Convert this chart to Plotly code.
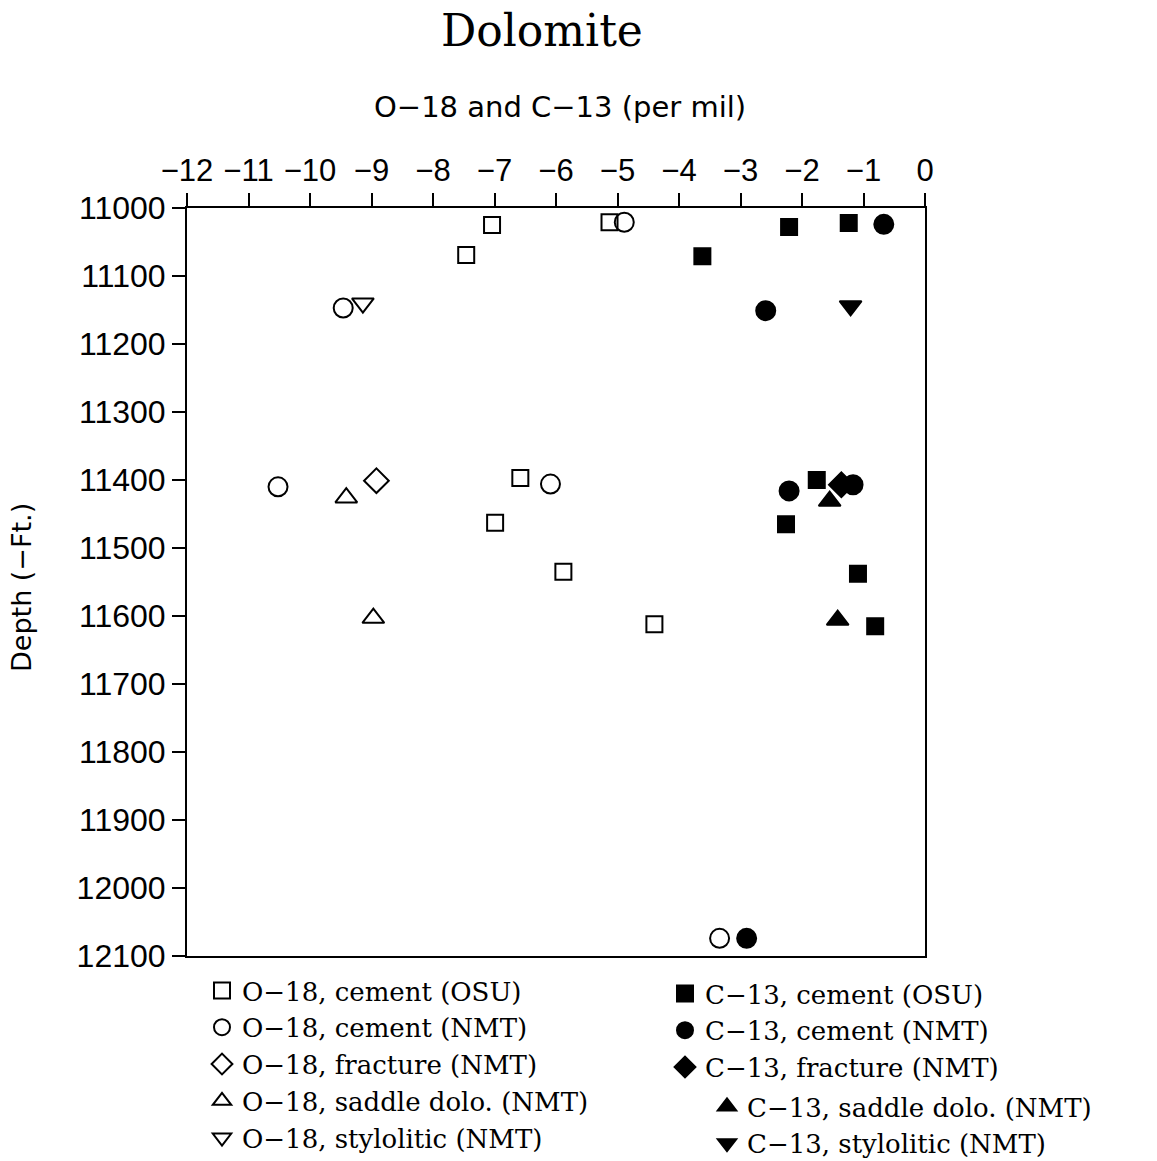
import plotly.graph_objects as go

W, H = 1157, 1161

# ---- sample data: isotope value (per mil) and depth (ft) ----
# O-18 series (open symbols)
o18_cement_osu_val = [-7.04, -7.46, -5.13, -6.58, -6.99, -5.88, -4.40]
o18_cement_osu_depth = [11025, 11069, 11021, 11397, 11463, 11535, 11612]

o18_cement_nmt_val = [-4.89, -9.46, -10.52, -6.09, -3.34]
o18_cement_nmt_depth = [11021, 11147, 11410, 11406, 12074]

o18_fracture_nmt_val = [-8.92]
o18_fracture_nmt_depth = [11401]

o18_saddle_nmt_val = [-9.41, -8.97]
o18_saddle_nmt_depth = [11426, 11603]

o18_stylolitic_nmt_val = [-9.14]
o18_stylolitic_nmt_depth = [11140]

# C-13 series (filled symbols)
c13_cement_osu_val = [-2.21, -1.24, -3.62, -1.76, -2.26, -1.09, -0.81]
c13_cement_osu_depth = [11028, 11022, 11071, 11400, 11465, 11538, 11615]

c13_cement_nmt_val = [-0.67, -2.59, -2.21, -1.17, -2.90]
c13_cement_nmt_depth = [11024, 11151, 11416, 11407, 12074]

c13_fracture_nmt_val = [-1.36]
c13_fracture_nmt_depth = [11407]

c13_saddle_nmt_val = [-1.55, -1.42]
c13_saddle_nmt_depth = [11431, 11606]

c13_stylolitic_nmt_val = [-1.21]
c13_stylolitic_nmt_depth = [11144]

# axis ticks
x_ticks = list(range(-12, 1))
y_ticks = list(range(11000, 12101, 100))

MINUS = "\u2212"

series = [
    # name, values, depths, symbol, size, legend
    (f"O{MINUS}18, cement (OSU)", o18_cement_osu_val, o18_cement_osu_depth, "square-open", 16, "legend"),
    (f"O{MINUS}18, cement (NMT)", o18_cement_nmt_val, o18_cement_nmt_depth, "circle-open", 19, "legend"),
    (f"O{MINUS}18, fracture (NMT)", o18_fracture_nmt_val, o18_fracture_nmt_depth, "diamond-open", 19, "legend"),
    (f"O{MINUS}18, saddle dolo. (NMT)", o18_saddle_nmt_val, o18_saddle_nmt_depth, "triangle-up-open", 19, "legend"),
    (f"O{MINUS}18, stylolitic (NMT)", o18_stylolitic_nmt_val, o18_stylolitic_nmt_depth, "triangle-down-open", 19, "legend"),
    (f"C{MINUS}13, cement (OSU)", c13_cement_osu_val, c13_cement_osu_depth, "square", 16, "legend2"),
    (f"C{MINUS}13, cement (NMT)", c13_cement_nmt_val, c13_cement_nmt_depth, "circle", 19, "legend2"),
    (f"C{MINUS}13, fracture (NMT)", c13_fracture_nmt_val, c13_fracture_nmt_depth, "diamond", 19, "legend2"),
    (f"C{MINUS}13, saddle dolo. (NMT)", c13_saddle_nmt_val, c13_saddle_nmt_depth, "triangle-up", 19, "legend3"),
    (f"C{MINUS}13, stylolitic (NMT)", c13_stylolitic_nmt_val, c13_stylolitic_nmt_depth, "triangle-down", 19, "legend3"),
]

fig = go.Figure()
for name, vals, depths, sym, size, leg in series:
    fig.add_trace(go.Scatter(
        x=vals, y=depths, mode="markers", name=name, legend=leg,
        marker=dict(symbol=sym, size=size, color="black",
                    line=dict(color="black", width=2)),
    ))

def px_x(p):
    return p / W

def px_y(p):
    return 1 - p / H

sans = "Liberation Sans, Arial, sans-serif"
serif = "DejaVu Serif, serif"

legend_font = dict(family=serif, size=26, color="black")
legend_common = dict(font=legend_font, bgcolor="rgba(0,0,0,0)", borderwidth=0,
                     xanchor="left", yanchor="top", tracegroupgap=0,
                     itemsizing="trace", traceorder="normal")

fig.update_layout(
    width=W, height=H,
    margin=dict(l=0, r=0, t=0, b=0, autoexpand=False),
    paper_bgcolor="white", plot_bgcolor="white",
    showlegend=True,
    legend=dict(x=px_x(202), y=px_y(967), **legend_common),
    legend2=dict(x=px_x(665), y=px_y(970), **legend_common),
    legend3=dict(x=px_x(707), y=px_y(1083), **legend_common),
    xaxis=dict(
        domain=[px_x(187), px_x(925)],
        range=[-12, 0], side="top", automargin=False,
        tickmode="array", tickvals=x_ticks,
        ticktext=[(MINUS + str(-v)) if v < 0 else str(v) for v in x_ticks],
        ticks="outside", ticklen=13, tickwidth=2, tickcolor="black",
        tickfont=dict(family=sans, size=31, color="black"),
        showline=True, linecolor="black", linewidth=2, mirror=True,
        showgrid=False, zeroline=False,
    ),
    yaxis=dict(
        domain=[px_y(956), px_y(208)],
        range=[12100, 11000], automargin=False,
        tickmode="array", tickvals=y_ticks,
        ticktext=[str(v) for v in y_ticks],
        ticks="outside", ticklen=13, tickwidth=2, tickcolor="black",
        tickfont=dict(family=sans, size=32, color="black"),
        showline=True, linecolor="black", linewidth=2, mirror=True,
        showgrid=False, zeroline=False,
    ),
    annotations=[
        dict(text="Dolomite", x=px_x(542), y=px_y(30), xref="paper", yref="paper",
             xanchor="center", yanchor="middle", showarrow=False,
             font=dict(family=serif, size=44, color="black")),
        dict(text=f"O{MINUS}18 and C{MINUS}13 (per mil)", x=px_x(560), y=px_y(107),
             xref="paper", yref="paper", xanchor="center", yanchor="middle",
             showarrow=False, font=dict(family="DejaVu Sans, sans-serif", size=29, color="black")),
        dict(text=f"Depth ({MINUS}Ft.)", x=px_x(21), y=px_y(588), xref="paper", yref="paper",
             xanchor="center", yanchor="middle", textangle=-90, showarrow=False,
             font=dict(family="DejaVu Sans, sans-serif", size=27, color="black")),
    ],
)

fig.write_html("out.html")
